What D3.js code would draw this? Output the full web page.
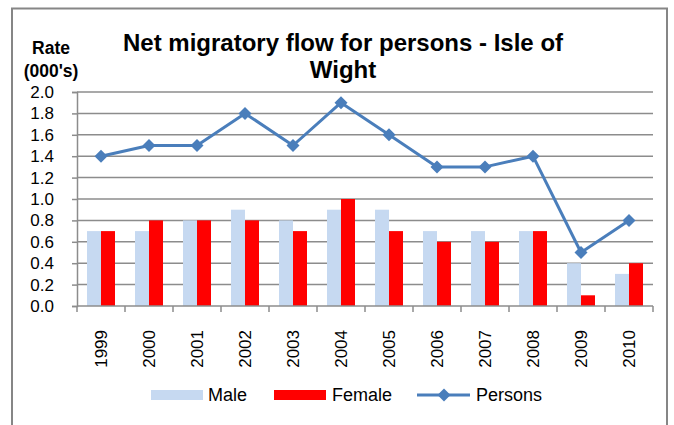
<!DOCTYPE html>
<html>
<head>
<meta charset="utf-8">
<script src="https://cdn.jsdelivr.net/npm/d3@7"></script>
<style>
  body { margin: 0; background: #fff; }
  text { font-family: Arial, "Liberation Sans", sans-serif; fill: #000; }
</style>
</head>
<body>
<div class="chart"></div>
<script>
// Chart data
var years = ["1999", "2000", "2001", "2002", "2003", "2004", "2005", "2006", "2007", "2008", "2009", "2010"];
var male = [0.7, 0.7, 0.8, 0.9, 0.8, 0.9, 0.9, 0.7, 0.7, 0.7, 0.4, 0.3];
var female = [0.7, 0.8, 0.8, 0.8, 0.7, 1.0, 0.7, 0.6, 0.6, 0.7, 0.1, 0.4];
var persons = [1.4, 1.5, 1.5, 1.8, 1.5, 1.9, 1.6, 1.3, 1.3, 1.4, 0.5, 0.8];
var yTicks = [0, 0.2, 0.4, 0.6, 0.8, 1.0, 1.2, 1.4, 1.6, 1.8, 2.0];

var svgWidth = 674;
var svgHeight = 425;
var margin = { top: 92, right: 21, bottom: 119, left: 77 };
var width = svgWidth - margin.left - margin.right;
var height = svgHeight - margin.top - margin.bottom;

var maleColor = "#c6d9f1";
var femaleColor = "#ff0000";
var lineColor = "#4a7ebb";

var svg = d3
  .select(".chart")
  .append("svg")
  .attr("width", svgWidth)
  .attr("height", svgHeight);

// Outer chart border
svg.append("rect")
  .attr("x", 12)
  .attr("y", 8.5)
  .attr("width", 655)
  .attr("height", 430)
  .attr("fill", "none")
  .attr("stroke", "#868686")
  .attr("stroke-width", 2);

var chart = svg.append("g")
  .attr("transform", "translate(" + margin.left + "," + margin.top + ")");

// Scales
var xScale = d3.scaleBand().domain(years).range([0, width]);
var yScale = d3.scaleLinear().domain([0, 2]).range([height, 0]);
var barWidth = 14;

// Gridlines
chart.append("g")
  .selectAll("line")
  .data(yTicks.slice(1))
  .enter()
  .append("line")
  .attr("x1", 0)
  .attr("x2", width)
  .attr("y1", function (d) { return yScale(d); })
  .attr("y2", function (d) { return yScale(d); })
  .attr("stroke", "#8c8c8c")
  .attr("stroke-width", 1.5);

// Male bars
chart.append("g")
  .selectAll("rect")
  .data(male)
  .enter()
  .append("rect")
  .attr("x", function (d, i) { return xScale(years[i]) + xScale.bandwidth() / 2 - barWidth; })
  .attr("y", function (d) { return yScale(d); })
  .attr("width", barWidth)
  .attr("height", function (d) { return height - yScale(d); })
  .attr("fill", maleColor);

// Female bars
chart.append("g")
  .selectAll("rect")
  .data(female)
  .enter()
  .append("rect")
  .attr("x", function (d, i) { return xScale(years[i]) + xScale.bandwidth() / 2; })
  .attr("y", function (d) { return yScale(d); })
  .attr("width", barWidth)
  .attr("height", function (d) { return height - yScale(d); })
  .attr("fill", femaleColor);

// Y axis
var yAxis = d3.axisLeft(yScale)
  .tickValues(yTicks)
  .tickSize(5)
  .tickPadding(18)
  .tickFormat(d3.format(".1f"));

var yAxisG = chart.append("g").attr("class", "y-axis").call(yAxis);
yAxisG.select(".domain").attr("stroke", "#8c8c8c").attr("stroke-width", 1.5);
yAxisG.selectAll(".tick line").attr("stroke", "#8c8c8c").attr("stroke-width", 1.5);
yAxisG.selectAll(".tick text")
  .style("font-size", "17px")
  .style("font-family", "Arial, 'Liberation Sans', sans-serif")
  .attr("fill", "#000");

// X axis line and boundary ticks
var xAxisG = chart.append("g").attr("transform", "translate(0," + height + ")");
xAxisG.append("line")
  .attr("x1", 0)
  .attr("x2", width)
  .attr("stroke", "#8c8c8c")
  .attr("stroke-width", 1.5);
xAxisG.selectAll(".xtick")
  .data(years.concat(["end"]))
  .enter()
  .append("line")
  .attr("class", "xtick")
  .attr("x1", function (d, i) { return i * xScale.step(); })
  .attr("x2", function (d, i) { return i * xScale.step(); })
  .attr("y1", 0)
  .attr("y2", 6)
  .attr("stroke", "#8c8c8c")
  .attr("stroke-width", 1.5);

// Rotated year labels
xAxisG.selectAll(".year")
  .data(years)
  .enter()
  .append("text")
  .attr("class", "year")
  .attr("text-anchor", "end")
  .attr("transform", function (d) {
    return "translate(" + (xScale(d) + xScale.bandwidth() / 2) + ",24) rotate(-90)";
  })
  .attr("dy", "0.35em")
  .style("font-size", "17px")
  .text(function (d) { return d; });

// Persons line
var line = d3.line()
  .x(function (d, i) { return xScale(years[i]) + xScale.bandwidth() / 2; })
  .y(function (d) { return yScale(d); });

chart.append("path")
  .datum(persons)
  .attr("d", line)
  .attr("fill", "none")
  .attr("stroke", lineColor)
  .attr("stroke-width", 3)
  .attr("stroke-linejoin", "round");

var diamond = d3.symbol().type(d3.symbolSquare).size(85);

chart.append("g")
  .selectAll("path")
  .data(persons)
  .enter()
  .append("path")
  .attr("d", diamond)
  .attr("transform", function (d, i) {
    return "translate(" + (xScale(years[i]) + xScale.bandwidth() / 2) + "," + yScale(d) + ") rotate(45)";
  })
  .attr("fill", lineColor);

// Title
var title = svg.append("text")
  .attr("text-anchor", "middle")
  .style("font-size", "24px")
  .style("font-weight", "bold");
title.append("tspan").attr("x", 343).attr("y", 51).text("Net migratory flow for persons - Isle of");
title.append("tspan").attr("x", 343).attr("y", 78).text("Wight");

// Y axis title
var yTitle = svg.append("text")
  .attr("text-anchor", "middle")
  .style("font-size", "17.5px")
  .style("font-weight", "bold");
yTitle.append("tspan").attr("x", 51).attr("y", 54).text("Rate");
yTitle.append("tspan").attr("x", 51).attr("y", 77).text("(000's)");

// Legend
var legend = svg.append("g");
legend.append("rect")
  .attr("x", 151).attr("y", 390).attr("width", 52).attr("height", 10)
  .attr("fill", maleColor);
legend.append("text")
  .attr("x", 208).attr("y", 395).attr("dy", "0.35em")
  .style("font-size", "18px").text("Male");
legend.append("rect")
  .attr("x", 274).attr("y", 390).attr("width", 52).attr("height", 10)
  .attr("fill", femaleColor);
legend.append("text")
  .attr("x", 332).attr("y", 395).attr("dy", "0.35em")
  .style("font-size", "18px").text("Female");
legend.append("line")
  .attr("x1", 417).attr("x2", 470).attr("y1", 395).attr("y2", 395)
  .attr("stroke", lineColor).attr("stroke-width", 3);
legend.append("path")
  .attr("d", diamond)
  .attr("transform", "translate(444,395) rotate(45)")
  .attr("fill", lineColor);
legend.append("text")
  .attr("x", 476).attr("y", 395).attr("dy", "0.35em")
  .style("font-size", "18px").text("Persons");
</script>
</body>
</html>
